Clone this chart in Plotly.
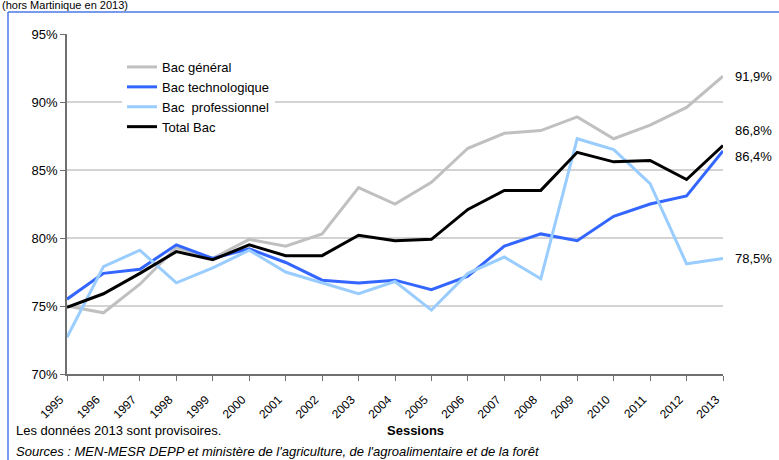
import plotly.graph_objects as go

years = list(range(1995, 2014))
bac_general = [75.0, 74.5, 76.6, 79.3, 78.5, 79.9, 79.4, 80.3, 83.7, 82.5, 84.1, 86.6, 87.7, 87.9, 88.9, 87.3, 88.3, 89.6, 91.9]
bac_techno = [75.5, 77.4, 77.7, 79.5, 78.5, 79.2, 78.2, 76.9, 76.7, 76.9, 76.2, 77.2, 79.4, 80.3, 79.8, 81.6, 82.5, 83.1, 86.4]
bac_pro = [72.7, 77.9, 79.1, 76.7, 77.8, 79.1, 77.5, 76.7, 75.9, 76.8, 74.7, 77.4, 78.6, 77.0, 87.3, 86.5, 84.0, 78.1, 78.5]
total_bac = [74.9, 75.9, 77.4, 79.0, 78.4, 79.5, 78.7, 78.7, 80.2, 79.8, 79.9, 82.1, 83.5, 83.5, 86.3, 85.6, 85.7, 84.3, 86.8]
y_ticks = [70, 75, 80, 85, 90, 95]
y_tick_labels = ["70%", "75%", "80%", "85%", "90%", "95%"]
x_tick_labels = [str(y) for y in years]

series = [
    ("Bac général", bac_general, "#C0C0C0"),
    ("Bac technologique", bac_techno, "#3366FF"),
    ("Bac  professionnel", bac_pro, "#99CCFF"),
    ("Total Bac", total_bac, "#000000"),
]
# vertical placement of end labels (visual offsets to avoid overlaps)
label_y = {"Bac général": 91.9, "Bac technologique": 86.0, "Bac  professionnel": 78.5, "Total Bac": 87.9}

W, H = 779, 460
L, R, T, B = 67, 56, 34, 86
pw, ph = W - L - R, H - T - B
def px(x): return (x - L) / pw
def py(y): return (H - B - y) / ph

fig = go.Figure()
for name, vals, col in series:
    fig.add_trace(go.Scatter(x=years, y=vals, mode="lines", name=name,
                             line=dict(color=col, width=3)))

font = dict(family="Liberation Sans, Arial, sans-serif", size=13, color="#000000")
ann = []
for name, vals, col in series:
    ann.append(dict(x=px(733), xref="paper", y=label_y[name], yref="y",
                    text=f"{vals[-1]:.1f}".replace(".", ",") + "%",
                    showarrow=False, xanchor="left", yanchor="middle", font=font))
ann += [
    dict(x=px(14), y=py(430), xref="paper", yref="paper", text="Les données 2013 sont provisoires.",
         showarrow=False, xanchor="left", yanchor="middle", font=font),
    dict(x=px(415), y=py(430), xref="paper", yref="paper", text="<b>Sessions</b>",
         showarrow=False, xanchor="center", yanchor="middle", font=font),
    dict(x=px(14), y=py(451), xref="paper", yref="paper",
         text="<i>Sources : MEN-MESR DEPP et ministère de l'agriculture, de l'agroalimentaire et de la forêt</i>",
         showarrow=False, xanchor="left", yanchor="middle", font=font),
    dict(x=px(0), y=py(5), xref="paper", yref="paper", text="(hors Martinique en 2013)",
         showarrow=False, xanchor="left", yanchor="middle",
         font=dict(family="Liberation Sans, Arial, sans-serif", size=11, color="#000000")),
]

frame = "#4A78E6"
shapes = [
    dict(type="line", xref="paper", yref="paper", x0=px(8), x1=px(779), y0=py(12), y1=py(12),
         line=dict(color=frame, width=1.5)),
    dict(type="line", xref="paper", yref="paper", x0=px(8), x1=px(8), y0=py(12), y1=py(460),
         line=dict(color=frame, width=1.5)),
]

fig.update_layout(
    width=W, height=H, margin=dict(l=L, r=R, t=T, b=B),
    paper_bgcolor="white", plot_bgcolor="white",
    font=font, showlegend=True,
    legend=dict(x=px(122), y=py(52), xanchor="left", yanchor="top", bgcolor="white",
                font=dict(family="Liberation Sans, Arial, sans-serif", size=13), tracegroupgap=0),
    annotations=ann, shapes=shapes,
)
fig.update_xaxes(range=[1995, 2013], tickmode="array", tickvals=years,
                 ticktext=[t + "\u00a0\u00a0\u00a0" for t in x_tick_labels],
                 tickangle=-45, showgrid=False, showline=True, linecolor="#707070", linewidth=1.5,
                 ticks="outside", ticklen=5, tickcolor="#707070",
                 tickfont=dict(family="Liberation Sans, Arial, sans-serif", size=12), zeroline=False)
fig.update_yaxes(range=[70, 95], tickmode="array", tickvals=y_ticks, ticktext=y_tick_labels,
                 showgrid=True, gridcolor="#D3D3D3", gridwidth=1.5, showline=True, linecolor="#707070",
                 linewidth=1.5, ticks="outside", ticklen=5, tickcolor="#707070", zeroline=False,
                 tickfont=dict(family="Liberation Sans, Arial, sans-serif", size=13))
fig.write_html("out.html", config={"displayModeBar": False},
               post_script="document.body.style.margin='0px';document.body.style.overflow='hidden';")
